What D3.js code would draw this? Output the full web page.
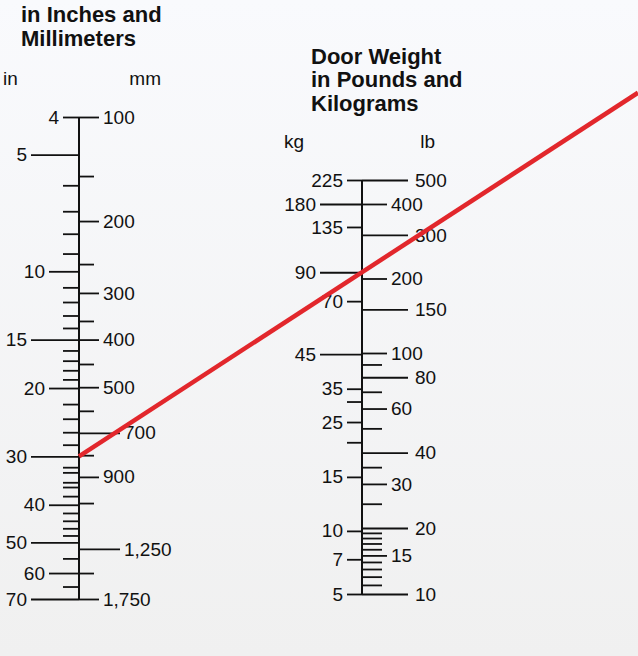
<!DOCTYPE html>
<html>
<head>
<meta charset="utf-8">
<script src="https://cdn.jsdelivr.net/npm/d3@7"></script>
<style>
    html, body { margin: 0; padding: 0; background: #f4f5f7; }
    #chart { width: 638px; height: 656px; }
    .title { font-family: "Liberation Sans", Arial, Helvetica, sans-serif; font-weight: bold; font-size: 22px; fill: #111; }
    .unit { font-family: "Liberation Sans", Arial, Helvetica, sans-serif; font-size: 19px; fill: #111; }
</style>
</head>
<body>
<div id="chart"></div>
<script>
// door width, inches (left side of first scale)
const inchMajor = [4, 5, 10, 15, 20, 30, 40, 50, 60, 70];
const inchMinor = [6, 7, 8, 9, 11, 12, 13, 14, 16, 17, 18, 19, 22, 24, 26, 28, 32, 33, 35, 36, 38, 42, 44, 46, 48, 55, 65];

// door width, millimeters (right side), placed where they sit on the inch scale
const mmLabels = ["100", "200", "300", "400", "500", "700", "900", "1,250", "1,750"];
const mmAtInch = [4, 7.42, 11.37, 15, 19.9, 26.1, 33.9, 52, 70];
const mmMinorAtInch = [5.68, 9.58, 13.43, 17.34, 22.9, 29.8, 39.6, 60];

// door weight, pounds (right side of second scale)
const lbMajor = [10, 15, 20, 30, 40, 60, 80, 100, 150, 200, 300, 400, 500];
const lbMinor = [11, 12, 13, 14, 16, 17, 18, 19, 25, 35, 50, 70, 90];

// door weight, kilograms (left side), placed where they sit on the pound scale
const kgLabels = [5, 7, 10, 15, 25, 35, 45, 70, 90, 135, 180, 225];
const kgAtLb = [10, 14.4, 19.4, 32, 53, 72, 99, 162, 212, 323, 400, 500];
const kgMinorAtLb = [44, 64];

// the example reading drawn in red
const readingWidthIn = 30;
const readingWeightKg = 90;

/*
SVG CANVAS
*/
const width = 638;
const height = 656;

const svg = d3.select("#chart")
    .append("svg")
    .attr("width", width)
    .attr("height", height);

const grad = svg.append("defs").append("linearGradient")
    .attr("id", "bg")
    .attr("x1", 0).attr("y1", 0).attr("x2", 0).attr("y2", 1);
grad.append("stop").attr("offset", "0%").attr("stop-color", "#f9fafd");
grad.append("stop").attr("offset", "100%").attr("stop-color", "#f0f0f0");

svg.append("rect")
    .attr("width", width)
    .attr("height", height)
    .attr("fill", "url(#bg)");

/*
SCALES
*/
const widthX = 79;
const weightX = 362;

const inchScale = d3.scaleLog()
    .domain([4, 70])
    .range([117, 599]);

// pound scale on the drawing is not quite even, so it is pinned at a few values
const lbScale = d3.scaleLog()
    .domain([10, 20, 100, 500])
    .range([594, 528, 353, 180]);

/*
TICK HELPER
*/
function ticks(scale, x, side, values, labels, size) {
    const axis = (side === "left" ? d3.axisLeft(scale) : d3.axisRight(scale))
        .tickValues(values)
        .tickSize(size)
        .tickPadding(4)
        .tickFormat(function (d, i) { return labels ? labels[i] : ""; });

    const g = svg.append("g")
        .attr("class", "axis")
        .attr("transform", `translate(${x},0)`)
        .call(axis);

    g.select(".domain").remove();
    g.attr("color", "#111")
        .attr("font-size", 19)
        .attr("font-family", '"Liberation Sans", Arial, Helvetica, sans-serif');
    g.selectAll("line").attr("stroke-width", 1.8);
    g.selectAll("text").attr("fill", "#111");
    return g;
}

function pick(values, labels, keep) {
    const v = [], l = [];
    values.forEach(function (d, i) {
        if (keep.includes(labels[i])) { v.push(d); l.push(labels[i]); }
    });
    return [v, l];
}

/*
WIDTH SCALE
*/
svg.append("line")
    .attr("x1", widthX).attr("x2", widthX)
    .attr("y1", inchScale(4)).attr("y2", inchScale(70))
    .attr("stroke", "#111").attr("stroke-width", 2);

const inchLong = [5, 15, 30, 50, 70];
const inchMid = [10, 20, 40, 60];
let sel = pick(inchMajor, inchMajor, inchLong);
ticks(inchScale, widthX, "left", sel[0], sel[1], 48);
sel = pick(inchMajor, inchMajor, inchMid);
ticks(inchScale, widthX, "left", sel[0], sel[1], 30);
sel = pick(inchMajor, inchMajor, [4]);
ticks(inchScale, widthX, "left", sel[0], sel[1], 16);
ticks(inchScale, widthX, "left", inchMinor, null, 16);

const mmLong = ["700", "1,250"];
sel = pick(mmAtInch, mmLabels, mmLabels.filter(d => !mmLong.includes(d)));
ticks(inchScale, widthX, "right", sel[0], sel[1], 20);
sel = pick(mmAtInch, mmLabels, mmLong);
ticks(inchScale, widthX, "right", sel[0], sel[1], 41);
ticks(inchScale, widthX, "right", mmMinorAtInch, null, 15);

/*
WEIGHT SCALE
*/
svg.append("line")
    .attr("x1", weightX).attr("x2", weightX)
    .attr("y1", lbScale(500)).attr("y2", lbScale(10))
    .attr("stroke", "#111").attr("stroke-width", 2);

const kgLong = [180, 90, 45];
sel = pick(kgAtLb, kgLabels, kgLong);
ticks(lbScale, weightX, "left", sel[0], sel[1], 42);
sel = pick(kgAtLb, kgLabels, kgLabels.filter(d => !kgLong.includes(d)));
ticks(lbScale, weightX, "left", sel[0], sel[1], 15);
ticks(lbScale, weightX, "left", kgMinorAtLb, null, 15);

const lbLong = [500, 300, 150, 80, 40, 20, 10];
sel = pick(lbMajor, lbMajor, lbLong);
ticks(lbScale, weightX, "right", sel[0], sel[1], 46).selectAll("text").attr("x", 53);
sel = pick(lbMajor, lbMajor, lbMajor.filter(d => !lbLong.includes(d)));
ticks(lbScale, weightX, "right", sel[0], sel[1], 25);
ticks(lbScale, weightX, "right", lbMinor, null, 20);

/*
TITLES AND UNITS
*/
const title1 = svg.append("text").attr("class", "title").attr("x", 21).attr("y", 22);
title1.append("tspan").attr("x", 21).text("in Inches and");
title1.append("tspan").attr("x", 21).attr("dy", 23.5).text("Millimeters");

const title2 = svg.append("text").attr("class", "title").attr("x", 311).attr("y", 63.5);
title2.append("tspan").attr("x", 311).text("Door Weight");
title2.append("tspan").attr("x", 311).attr("dy", 23.5).text("in Pounds and");
title2.append("tspan").attr("x", 311).attr("dy", 23.5).text("Kilograms");

svg.append("text").attr("class", "unit").attr("x", 3).attr("y", 85).text("in");
svg.append("text").attr("class", "unit").attr("x", 161).attr("y", 85).attr("text-anchor", "end").text("mm");
svg.append("text").attr("class", "unit").attr("x", 284).attr("y", 148).text("kg");
svg.append("text").attr("class", "unit").attr("x", 435).attr("y", 148).attr("text-anchor", "end").text("lb");

/*
RED READING LINE
*/
const kgPos = kgAtLb[kgLabels.indexOf(readingWeightKg)];
const p0 = [widthX, inchScale(readingWidthIn)];
const p1 = [weightX, lbScale(kgPos)];
const t = (width - p0[0]) / (p1[0] - p0[0]);
const p2 = [width, p0[1] + (p1[1] - p0[1]) * t];

svg.append("path")
    .datum([p0, p2])
    .attr("d", d3.line())
    .attr("stroke", "#e2272c")
    .attr("stroke-width", 4.5)
    .attr("fill", "none");
</script>
</body>
</html>
